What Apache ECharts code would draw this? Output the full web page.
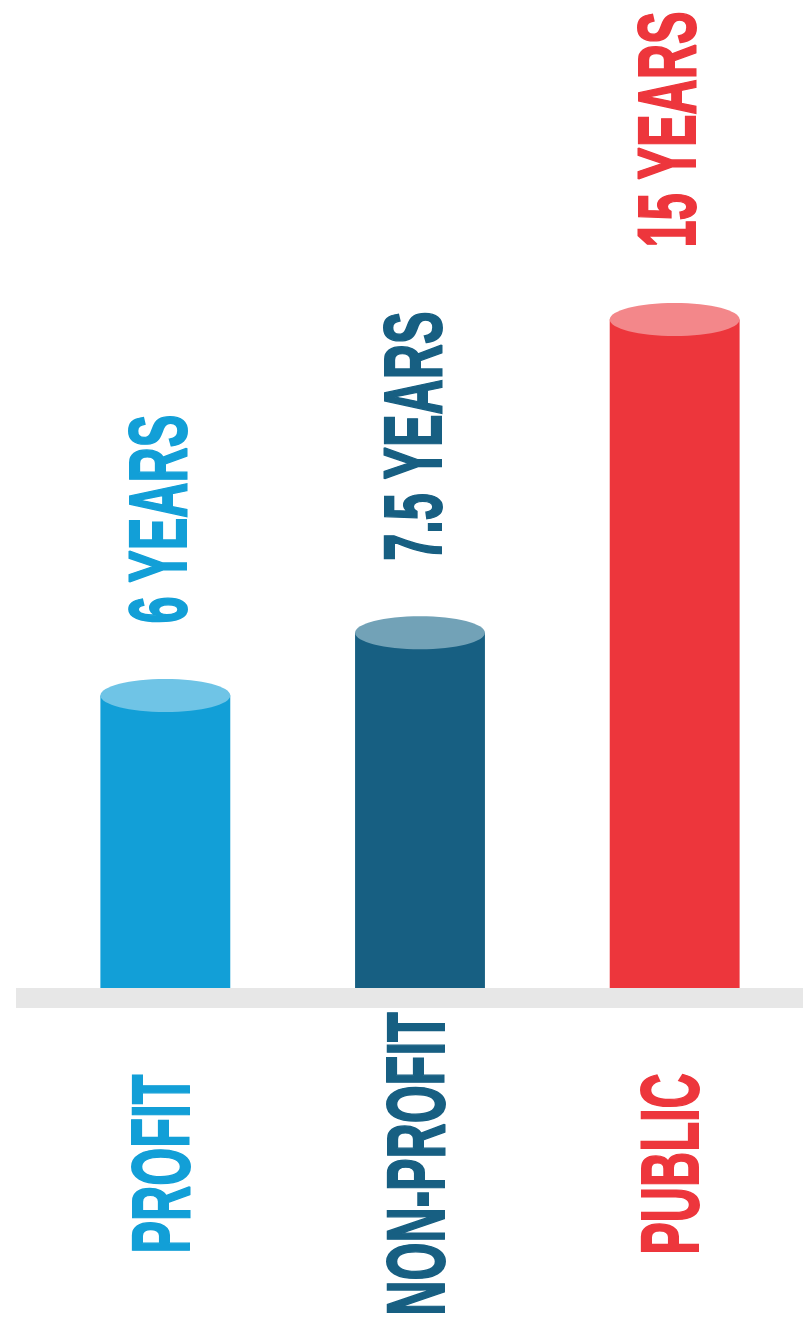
<!DOCTYPE html>
<html>
<head>
<meta charset="utf-8">
<style>
  html, body { margin: 0; padding: 0; background: #ffffff; }
  #chart { width: 803px; height: 1326px; }
</style>
<script src="https://cdn.jsdelivr.net/npm/echarts@6/dist/echarts.min.js"></script>
</head>
<body>
<div id="chart"></div>
<script>
// Years, by type of institution
const categories = ['PROFIT', 'NON-PROFIT', 'PUBLIC'];
const years = [6, 7.5, 15];
const unit = 'YEARS';

// Cylinder body colours and the lighter tone of each cap
const bodyColors = ['#129fd7', '#175f82', '#ed363c'];
const capColors = ['#6fc4e6', '#72a2b7', '#f3878a'];

const yMin = -1;
const yMax = 22;
// Heavy condensed lettering: a bold sans squeezed along the reading direction
const labelFont = 'bold 82px "Liberation Sans", Arial, sans-serif';
const squeeze = 0.595;

const chart = echarts.init(document.getElementById('chart'), null, { renderer: 'canvas' });

function labelText(str, x, y, color, align) {
  return {
    type: 'text',
    x: x,
    y: y,
    rotation: Math.PI / 2,
    scaleX: squeeze,
    style: {
      text: str,
      font: labelFont,
      fill: color,
      stroke: color,
      lineWidth: 2,
      align: align,
      verticalAlign: 'middle'
    }
  };
}

function renderCylinder(params, api) {
  const idx = api.value(0);
  const val = api.value(1);
  const top = api.coord([idx, val]);
  const base = api.coord([idx, yMin]);
  const cx = top[0];
  const w = api.size([1, 0])[0] * 0.51;
  const ry = 16.5;
  const color = bodyColors[idx];
  return {
    type: 'group',
    children: [
      {
        type: 'rect',
        shape: { x: cx - w / 2, y: top[1], width: w, height: base[1] - top[1] },
        style: { fill: color }
      },
      {
        type: 'ellipse',
        shape: { cx: cx, cy: top[1], rx: w / 2, ry: ry },
        style: { fill: capColors[idx] }
      },
      // value label above the cap, reading upwards
      labelText(val + ' ' + unit, cx - 2, top[1] - 72, color, 'left'),
      // category name under the base band
      labelText(categories[idx], cx + 1, 1164, color, 'center')
    ]
  };
}

const option = {
  animation: false,
  backgroundColor: '#ffffff',
  grid: { left: 38, right: 1, top: 27, bottom: 338 },
  xAxis: {
    type: 'category',
    data: categories,
    show: false
  },
  yAxis: {
    type: 'value',
    min: yMin,
    max: yMax,
    show: false
  },
  graphic: [
    {
      type: 'rect',
      left: 16,
      top: 988,
      shape: { width: 787, height: 20 },
      style: { fill: '#e7e7e7' },
      z: 0
    }
  ],
  series: [
    {
      type: 'custom',
      renderItem: renderCylinder,
      data: years.map((v, i) => [i, v]),
      z: 2
    }
  ]
};

chart.setOption(option);
</script>
</body>
</html>
